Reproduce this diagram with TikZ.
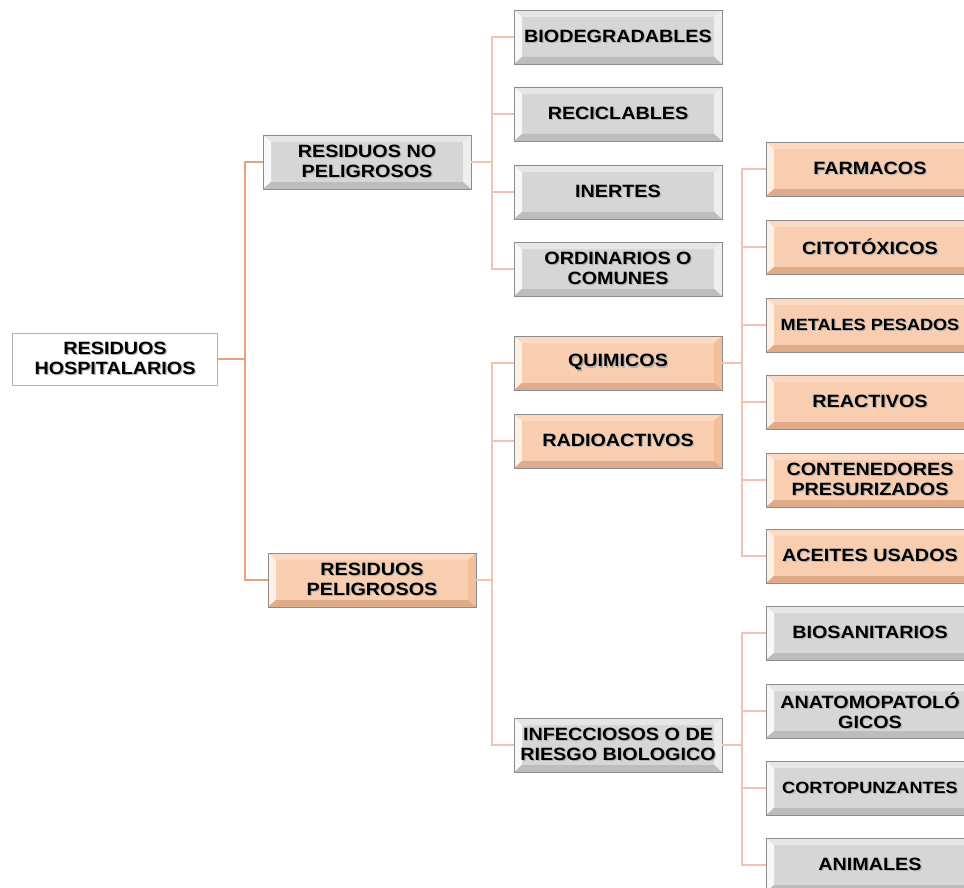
\documentclass[tikz,border=0pt]{standalone}
\usepackage{fontspec}
\setmainfont{Liberation Sans}[FakeStretch=1.11]
\usetikzlibrary{calc}
\definecolor{gbase}{HTML}{D6D6D6}
\definecolor{gtop}{HTML}{E6E6E6}
\definecolor{gleft}{HTML}{F8F8F8}
\definecolor{gright}{HTML}{EEEEEE}
\definecolor{gbot}{HTML}{BDBDBD}
\definecolor{obase}{HTML}{F9CDB0}
\definecolor{otop}{HTML}{FBDAC4}
\definecolor{oleft}{HTML}{FDF0E6}
\definecolor{oright}{HTML}{F3BE9C}
\definecolor{obot}{HTML}{E0AB88}
\definecolor{connA}{HTML}{E9A17C}
\definecolor{connB}{HTML}{F2C1B2}
\newcommand\sh[1]{\makebox[0pt][l]{\hspace{1.2pt}\raisebox{-1.2pt}{\textcolor{black!30}{#1}}}#1}
\tikzset{
  bevel/.style n args={4}{path picture={
    \coordinate (NW) at (path picture bounding box.north west);
    \coordinate (SE) at (path picture bounding box.south east);
    \coordinate (NE) at (NW -| SE);
    \coordinate (SW) at (SE -| NW);
    \fill[#1] (NW) -- (NE) -- ([shift={(-8pt,-7pt)}]NE) -- ([shift={(8pt,-7pt)}]NW) -- cycle;
    \fill[#2] (NW) -- ([shift={(8pt,-7pt)}]NW) -- ([shift={(8pt,7pt)}]SW) -- (SW) -- cycle;
    \fill[#3] (NE) -- ([shift={(-8pt,-7pt)}]NE) -- ([shift={(-8pt,7pt)}]SE) -- (SE) -- cycle;
    \fill[#4] (SW) -- ([shift={(8pt,7pt)}]SW) -- ([shift={(-8pt,7pt)}]SE) -- (SE) -- cycle;
  }},
  box/.style={draw=black!45, line width=0.7pt, minimum width=208pt, minimum height=54pt,
    inner sep=0pt, align=center, text=black},
  gbox/.style={box, fill=gbase, bevel={gtop}{gleft}{gright}{gbot}},
  obox/.style={box, fill=obase, bevel={otop}{oleft}{oright}{obot}},
  rootbox/.style={box, fill=white, draw=black!30, minimum width=205pt, minimum height=52pt},
  narrowtext/.style={font=\fontsize{16.3}{20}\selectfont\bfseries},
  connmain/.style={draw=connA, line width=1.8pt},
  conn/.style={draw=connB, line width=1.3pt},
}
\begin{document}
\begin{tikzpicture}[x=1pt,y=-1pt, font=\fontsize{17.8}{20}\selectfont\bfseries]
\useasboundingbox (0,0) rectangle (964,888);
\clip (0,0) rectangle (964,888);
\fill[white] (0,0) rectangle (964,888);

% junctions
\coordinate (j1) at (245,359);
\coordinate (j2) at (492,162);
\coordinate (j3) at (492,580);
\coordinate (j4) at (742,363);
\coordinate (j5) at (742,745);

% nodes
\node[rootbox] (root) at (115,359) {\sh{RESIDUOS}\\\sh{HOSPITALARIOS}};
\node[gbox] (nop) at (367,162) {\sh{RESIDUOS NO}\\\sh{PELIGROSOS}};
\node[obox] (pel) at (372,580) {\sh{RESIDUOS}\\\sh{PELIGROSOS}};

\node[gbox] (bio) at (618,37) {\sh{BIODEGRADABLES}};
\node[gbox] (rec) at (618,114) {\sh{RECICLABLES}};
\node[gbox] (ine) at (618,192) {\sh{INERTES}};
\node[gbox] (ord) at (618,269) {\sh{ORDINARIOS O}\\\sh{COMUNES}};

\node[obox] (qui) at (618,363) {\sh{QUIMICOS}};
\node[obox] (rad) at (618,441) {\sh{RADIOACTIVOS}};
\node[gbox] (inf) at (618,745) {\sh{INFECCIOSOS O DE}\\\sh{RIESGO BIOLOGICO}};

\node[obox] (far) at (870,169) {\sh{FARMACOS}};
\node[obox] (cit) at (870,247) {\sh{CITOTÓXICOS}};
\node[obox, narrowtext] (met) at (870,325) {\sh{METALES PESADOS}};
\node[obox] (rea) at (870,402) {\sh{REACTIVOS}};
\node[obox] (con) at (870,480) {\sh{CONTENEDORES}\\\sh{PRESURIZADOS}};
\node[obox] (ace) at (870,556) {\sh{ACEITES USADOS}};

\node[gbox] (bios) at (870,633) {\sh{BIOSANITARIOS}};
\node[gbox] (ana) at (870,711) {\sh{ANATOMOPATOLÓ}\\\sh{GICOS}};
\node[gbox, narrowtext] (cor) at (870,788) {\sh{CORTOPUNZANTES}};
\node[gbox] (ani) at (870,865) {\sh{ANIMALES}};

% connectors
\draw[connmain] (root.east) -- (j1);
\draw[connmain] (j1) |- (nop.west);
\draw[connmain] (j1) |- (pel.west);

\draw[conn] (nop.east) -- (j2);
\foreach \n in {bio,rec,ine,ord} \draw[conn] (j2) |- (\n.west);

\draw[conn] (pel.east) -- (j3);
\foreach \n in {qui,rad,inf} \draw[conn] (j3) |- (\n.west);

\draw[conn] (qui.east) -- (j4);
\foreach \n in {far,cit,met,rea,con,ace} \draw[conn] (j4) |- (\n.west);

\draw[conn] (inf.east) -- (j5);
\foreach \n in {bios,ana,cor,ani} \draw[conn] (j5) |- (\n.west);
\end{tikzpicture}
\end{document}
